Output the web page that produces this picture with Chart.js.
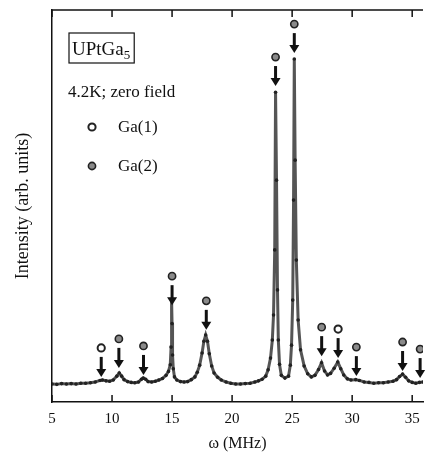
<!DOCTYPE html>
<html>
<head>
<meta charset="utf-8">
<script src="https://cdn.jsdelivr.net/npm/chart.js@4"></script>
<style>
  html, body { margin: 0; padding: 0; background: #fff; }
</style>
</head>
<body>
<canvas id="nqrSpectrum" width="429" height="457"></canvas>
<script>
// NQR spectrum, UPtGa5 at 4.2K in zero field
const freqs = [5.0, 5.4, 5.8, 6.2, 6.6, 7.0, 7.4, 7.8, 8.2, 8.6, 9.0, 9.2, 9.5, 9.8, 10.1, 10.4, 10.6, 10.8, 11.0, 11.3,
  11.6, 11.9, 12.2, 12.45, 12.6, 12.8, 13.0, 13.3, 13.6, 13.9, 14.2, 14.5, 14.7, 14.85, 14.92, 14.96, 15.0, 15.04, 15.1, 15.2,
  15.4, 15.7, 16.0, 16.3, 16.6, 16.9, 17.1, 17.3, 17.5, 17.65, 17.8, 17.95, 18.1, 18.3, 18.5, 18.8, 19.1, 19.5, 19.9, 20.3,
  20.7, 21.1, 21.5, 21.9, 22.2, 22.5, 22.8, 23.0, 23.2, 23.35, 23.45, 23.55, 23.62, 23.7, 23.78, 23.85, 23.95, 24.1, 24.4, 24.7,
  24.85, 24.95, 25.05, 25.12, 25.18, 25.25, 25.35, 25.5, 25.7, 26.0, 26.3, 26.6, 26.9, 27.2, 27.45, 27.7, 27.95, 28.2, 28.5, 28.8,
  29.05, 29.3, 29.6, 29.9, 30.3, 30.6, 31.0, 31.4, 31.8, 32.2, 32.6, 33.0, 33.4, 33.7, 33.95, 34.2, 34.45, 34.7, 35.0, 35.3,
  35.6, 35.9];
const intensity = [4.6, 4.5, 4.7, 4.6, 4.7, 4.6, 4.8, 4.8, 4.9, 5.1, 5.5, 5.6, 5.4, 5.3, 5.6, 6.6, 7.4, 6.6, 5.7, 5.2,
  5.0, 4.9, 5.1, 5.8, 6.1, 5.8, 5.2, 5.1, 5.3, 5.6, 6.0, 6.8, 7.8, 9.5, 14, 26, 20, 12, 8.5, 6.4,
  5.6, 5.2, 5.1, 5.2, 5.7, 6.4, 7.6, 9.4, 12.5, 15.5, 17.1, 15.5, 12.3, 9.2, 7.4, 6.3, 5.6, 5.1, 4.8, 4.6,
  4.6, 4.7, 4.8, 5.1, 5.4, 5.8, 6.6, 8.2, 11.2, 15.8, 22.2, 38.8, 79, 56.6, 28.6, 15.8, 9.6, 6.8, 6.1, 6.6,
  9.4, 14.5, 26, 51.5, 87.5, 61.7, 36.2, 20.9, 13.3, 9.2, 7.2, 6.4, 6.8, 8.3, 10.0, 7.9, 6.9, 7.3, 8.6, 10.2,
  8.5, 6.9, 5.9, 5.6, 5.7, 5.5, 5.1, 5.0, 4.8, 4.9, 4.9, 5.1, 5.3, 5.7, 6.5, 7.1, 6.3, 5.4, 5.0, 4.8,
  5.0, 5.1];

// line assignments (marker position above each line)
const ga1Freqs = [9.1, 28.83];
const ga1Marks = [13.8, 18.6];
const ga2Freqs = [10.57, 12.62, 15.0, 17.85, 23.62, 25.18, 27.46, 30.35, 34.2, 35.66];
const ga2Marks = [16.1, 14.3, 32.1, 25.8, 88.0, 96.4, 19.1, 14.0, 15.3, 13.5];

const xTicks = [5, 10, 15, 20, 25, 30, 35];

const serif = "'Liberation Serif', 'DejaVu Serif', serif";
const ink = '#111';

function toPoints(xs, ys) {
  return xs.map((x, i) => ({ x: x, y: ys[i] }));
}

// top border plus inward ticks on both horizontal edges
const framePlugin = {
  id: 'frame',
  afterDraw(chart) {
    const { ctx, chartArea: a, scales: { x } } = chart;
    ctx.save();
    ctx.strokeStyle = ink;
    ctx.lineWidth = 1.5;
    ctx.beginPath();
    ctx.moveTo(a.left, a.top);
    ctx.lineTo(a.right, a.top);
    x.ticks.forEach(t => {
      const px = x.getPixelForValue(t.value);
      ctx.moveTo(px, a.top);
      ctx.lineTo(px, a.top + 7);
      ctx.moveTo(px, a.bottom);
      ctx.lineTo(px, a.bottom - 7);
    });
    ctx.stroke();
    ctx.restore();
  }
};

// down arrows under every site marker
const arrowPlugin = {
  id: 'arrows',
  afterDatasetsDraw(chart) {
    const ctx = chart.ctx;
    ctx.save();
    ctx.strokeStyle = ink;
    ctx.fillStyle = ink;
    chart.data.datasets.forEach((ds, i) => {
      if (!ds.site) return;
      chart.getDatasetMeta(i).data.forEach(pt => {
        const top = pt.y + 9;
        const tip = pt.y + 29;
        ctx.lineWidth = 3;
        ctx.beginPath();
        ctx.moveTo(pt.x, top);
        ctx.lineTo(pt.x, tip - 6);
        ctx.stroke();
        ctx.beginPath();
        ctx.moveTo(pt.x - 5, tip - 8);
        ctx.lineTo(pt.x + 5, tip - 8);
        ctx.lineTo(pt.x, tip);
        ctx.closePath();
        ctx.fill();
      });
    });
    ctx.restore();
  }
};

// compound label, conditions and the marker key
const notesPlugin = {
  id: 'notes',
  afterDraw(chart) {
    const { ctx, chartArea: a } = chart;
    ctx.save();
    ctx.fillStyle = ink;
    ctx.strokeStyle = ink;
    ctx.textBaseline = 'alphabetic';

    const bx = a.left + 17, by = a.top + 23;
    ctx.font = '19px ' + serif;
    ctx.fillText('UPtGa', bx + 3, by + 22);
    const w = ctx.measureText('UPtGa').width;
    ctx.font = '13px ' + serif;
    ctx.fillText('5', bx + 3 + w, by + 26);
    const w5 = ctx.measureText('5').width;
    ctx.lineWidth = 1.2;
    ctx.strokeRect(bx, by, w + w5 + 7, 30);

    ctx.font = '17px ' + serif;
    ctx.fillText('4.2K; zero field', a.left + 16, a.top + 87);

    let ly = a.top + 117;
    chart.data.datasets.forEach(ds => {
      if (!ds.site) return;
      ctx.beginPath();
      ctx.arc(a.left + 40, ly, ds.pointRadius, 0, Math.PI * 2);
      ctx.fillStyle = ds.pointBackgroundColor;
      ctx.fill();
      ctx.lineWidth = ds.pointBorderWidth;
      ctx.strokeStyle = ds.pointBorderColor;
      ctx.stroke();
      ctx.fillStyle = ink;
      ctx.font = '17px ' + serif;
      ctx.textBaseline = 'middle';
      ctx.fillText(ds.label, a.left + 66, ly + 1);
      ly += 39;
    });
    ctx.restore();
  }
};

const ctx = document.getElementById('nqrSpectrum').getContext('2d');
const chart = new Chart(ctx, {
  type: 'scatter',
  data: {
    datasets: [
      {
        label: 'spectrum',
        data: toPoints(freqs, intensity),
        showLine: true,
        borderColor: '#555',
        borderWidth: 3,
        pointRadius: 1.8,
        pointBackgroundColor: '#222',
        pointBorderWidth: 0,
        tension: 0
      },
      {
        label: 'Ga(1)',
        site: true,
        data: toPoints(ga1Freqs, ga1Marks),
        pointRadius: 3.6,
        pointBackgroundColor: '#fff',
        pointBorderColor: '#222',
        pointBorderWidth: 2
      },
      {
        label: 'Ga(2)',
        site: true,
        data: toPoints(ga2Freqs, ga2Marks),
        pointRadius: 3.6,
        pointBackgroundColor: '#8a8a8a',
        pointBorderColor: '#222',
        pointBorderWidth: 1.6
      }
    ]
  },
  options: {
    responsive: false,
    animation: false,
    layout: { padding: { top: 10, right: 0, left: 0, bottom: 0 } },
    plugins: {
      legend: { display: false },
      tooltip: { enabled: false }
    },
    scales: {
      x: {
        type: 'linear',
        min: 5,
        max: 35.9,
        afterFit: s => { s.height = 55; },
        afterBuildTicks: s => { s.ticks = xTicks.map(v => ({ value: v })); },
        grid: { display: false, drawTicks: false },
        border: { display: true, color: ink, width: 1.5 },
        ticks: {
          padding: 8,
          color: ink,
          font: { family: serif, size: 15 }
        },
        title: {
          display: true,
          text: 'ω (MHz)',
          color: ink,
          font: { family: serif, size: 16 },
          padding: { top: 0, bottom: 4 }
        }
      },
      y: {
        min: 0,
        max: 100,
        afterFit: s => { s.width = 52; },
        grid: { display: false, drawTicks: false },
        border: { display: true, color: ink, width: 1.5 },
        ticks: { display: false },
        title: {
          display: true,
          text: 'Intensity (arb. units)',
          color: ink,
          font: { family: serif, size: 18 },
          padding: { top: 12, bottom: 0 }
        }
      }
    }
  },
  plugins: [framePlugin, arrowPlugin, notesPlugin]
});
</script>
</body>
</html>
